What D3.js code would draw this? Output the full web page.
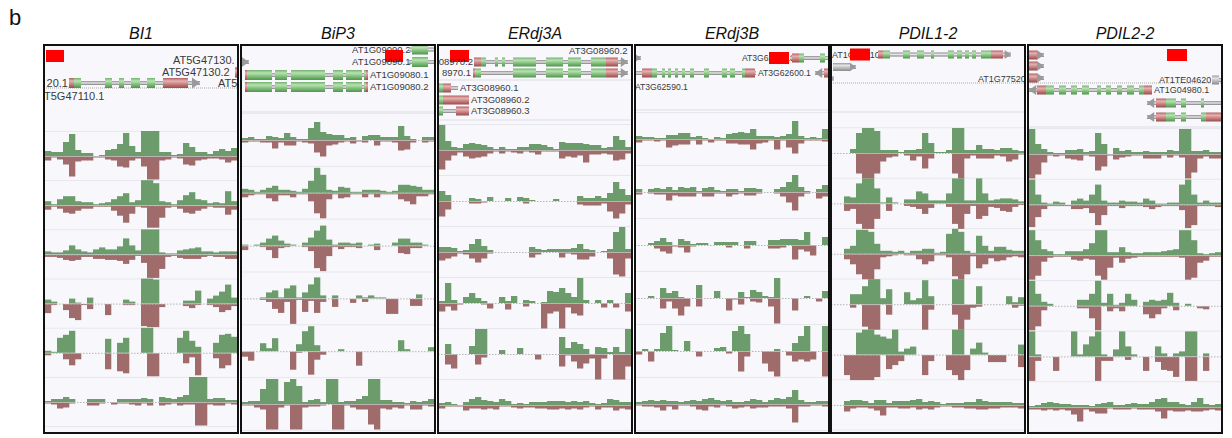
<!DOCTYPE html>
<html><head><meta charset="utf-8">
<script src="https://cdn.jsdelivr.net/npm/d3@7/dist/d3.min.js"></script>
<style>body{margin:0;background:#fff}svg{display:block;font-family:"Liberation Sans",Arial,sans-serif}</style>
</head><body><svg id="c" width="1232" height="438"></svg>
<script>
// ---------- DATA ----------
const panelTitles = ["BI1", "BiP3", "ERdj3A", "ERdj3B", "PDIL1-2", "PDIL2-2"];
const bins = d3.range(32);
// read coverage per bin, 6 tracks per gene; Up = green (+), Down = brown (-)
const bi1Up = [
 [5,4,4,14,22,6,3,3,0,1,6,7,12,23,10,4,25,25,25,4,4,1,2,13,9,4,4,2,5,7,5,8],
 [4,1,6,9,9,4,3,3,1,2,3,6,9,12,3,5,25,25,22,4,3,1,5,10,13,6,5,2,3,2,14,4],
 [3,2,2,4,9,5,3,2,5,7,5,5,8,16,9,4,25,25,25,2,1,1,4,5,6,7,3,3,2,3,3,3],
 [4,2,0,0,5,1,0,6,0,0,0,0,0,4,2,0,25,25,24,0,0,0,0,3,3,13,0,5,8,12,19,6],
 [2,1,15,18,22,0,0,0,0,0,14,0,10,15,0,0,25,25,0,0,0,0,15,22,12,6,0,0,10,18,19,16],
 [1,3,3,5,3,0,0,3,3,3,0,0,3,3,3,3,4,3,0,5,4,3,5,7,25,25,25,3,4,4,2,2]];
const bi1Down = [
 [4,1,3,8,20,5,4,4,1,1,3,4,10,11,4,2,10,23,23,4,3,1,2,8,9,4,3,2,2,3,6,4],
 [4,1,3,7,8,5,3,3,1,1,1,5,10,17,8,1,2,22,22,12,2,1,3,7,8,5,3,1,2,2,9,4],
 [2,2,3,5,6,5,2,2,4,4,5,5,6,9,5,1,8,23,23,14,2,1,3,4,4,4,2,1,2,2,4,4],
 [9,1,0,6,14,16,1,5,0,0,11,0,0,1,1,0,22,23,23,3,0,0,0,2,4,1,0,1,3,8,6,2],
 [2,0,0,6,12,6,0,0,0,0,16,0,18,20,0,0,0,23,23,0,0,0,0,10,4,22,0,0,5,15,12,0],
 [1,2,6,5,1,0,0,3,3,1,0,2,1,1,2,3,1,3,0,3,2,1,3,2,2,23,23,2,3,3,1,2]];
const bip3Up = [
 [2,3,1,1,4,3,2,7,3,1,1,12,18,8,6,5,5,2,3,0,4,5,5,3,3,3,14,4,1,0,3,3],
 [4,3,1,3,5,7,3,3,2,1,4,12,25,18,3,2,6,5,1,1,3,3,3,2,1,2,8,8,7,6,3,3],
 [1,0,1,3,7,10,5,2,1,0,3,8,15,20,6,1,3,3,2,3,0,1,2,0,0,3,7,7,3,3,1,0],
 [0,0,0,1,6,8,1,10,13,1,6,14,21,3,0,3,0,0,0,3,1,3,1,1,0,0,0,0,0,4,0,0],
 [0,0,0,8,3,13,0,0,0,7,20,25,6,0,0,0,2,0,0,0,0,0,0,0,0,0,11,2,0,0,0,4],
 [2,3,3,15,25,25,3,22,25,18,2,4,5,2,25,25,2,3,3,5,8,25,25,4,4,2,2,1,3,2,3,5]];
const bip3Down = [
 [2,1,1,2,2,8,2,5,5,1,2,3,12,16,5,4,2,1,3,1,2,0,5,1,1,2,10,9,2,0,2,1],
 [4,2,1,1,5,8,2,2,4,1,1,8,20,25,6,1,5,4,1,1,4,1,4,1,1,1,6,8,11,3,3,1],
 [4,0,0,1,4,12,2,1,0,0,1,5,22,25,10,1,3,1,1,2,0,0,4,0,0,0,7,8,2,2,0,0],
 [0,0,0,1,3,10,14,3,25,1,13,2,14,3,0,8,0,0,4,0,3,0,0,0,15,15,0,0,7,7,0,0],
 [5,9,0,0,0,0,0,0,18,1,0,23,8,3,0,0,0,0,0,14,0,0,0,0,0,0,0,0,0,0,0,0],
 [1,1,3,5,25,25,3,1,25,25,3,2,2,1,0,25,25,1,3,5,5,20,25,4,5,3,4,1,5,5,1,2]];
const erdj3aUp = [
 [25,9,3,2,6,7,6,5,3,1,3,1,1,3,3,6,6,5,3,1,8,7,7,7,6,5,5,2,3,14,10,3],
 [10,6,0,0,0,3,2,0,4,0,0,3,0,4,3,1,0,0,0,2,0,0,0,5,3,3,5,3,8,19,12,6],
 [5,5,4,1,2,8,13,6,2,0,0,0,0,0,0,5,3,2,3,3,3,3,4,8,3,2,0,1,3,20,25,3],
 [2,20,3,0,6,10,5,2,0,0,6,2,7,0,3,2,0,1,12,11,15,10,6,25,3,0,3,0,3,0,0,10],
 [0,10,0,0,0,8,25,25,0,0,4,0,0,6,0,0,0,0,0,0,17,6,12,10,5,0,7,6,2,7,2,25],
 [2,3,1,0,3,6,8,5,4,3,6,4,1,2,1,3,3,3,4,4,4,3,4,3,4,2,1,2,6,5,3,3]];
const erdj3aDown = [
 [19,10,5,2,6,8,7,6,3,1,3,1,2,3,1,2,4,1,1,1,8,6,7,5,12,4,4,3,4,10,9,3],
 [15,8,0,0,0,2,2,1,0,0,0,0,0,0,2,0,0,0,0,0,0,0,0,3,4,4,4,2,10,17,12,3],
 [8,6,4,1,2,6,10,6,1,0,0,0,0,0,0,5,2,0,0,0,5,1,2,7,7,4,0,0,6,22,24,6],
 [8,3,7,1,0,0,0,1,5,0,0,6,0,0,3,0,0,25,10,8,25,4,10,12,0,0,0,4,0,4,0,8],
 [0,10,14,0,0,0,10,3,0,0,0,0,0,0,0,0,5,0,0,0,12,1,7,14,9,4,25,4,0,25,25,12],
 [3,1,1,1,5,3,3,4,3,4,1,1,2,3,2,2,3,3,4,4,3,4,3,4,2,1,4,2,2,5,3,4]];
const erdj3bUp = [
 [3,2,2,1,1,4,4,6,6,2,3,1,0,2,1,5,6,7,6,10,3,3,3,2,3,5,18,3,1,2,1,10],
 [3,0,3,4,3,5,2,5,4,5,1,4,5,2,1,3,3,1,4,4,3,0,0,3,5,10,17,5,1,0,3,7],
 [0,0,2,4,7,3,0,6,4,1,2,2,0,3,3,3,3,0,4,4,0,0,5,5,6,6,6,5,13,0,0,8],
 [0,0,2,0,10,5,7,1,0,0,13,0,0,7,0,0,0,6,1,8,6,2,1,20,0,0,0,0,2,0,0,7],
 [0,2,0,2,18,25,1,0,10,0,0,0,0,3,4,0,20,25,17,0,0,0,0,2,0,0,8,15,25,0,0,25],
 [2,3,4,3,4,3,3,2,3,4,3,5,6,4,3,4,2,2,3,5,4,2,4,6,5,7,14,4,2,2,3,3]];
const erdj3bDown = [
 [3,1,1,2,1,8,6,5,5,1,5,1,3,1,1,4,4,5,5,10,4,3,1,10,1,8,14,4,1,1,1,2],
 [2,0,1,2,2,8,3,4,4,4,1,4,4,1,1,4,2,1,3,3,1,0,0,1,4,10,18,4,1,0,6,4],
 [0,0,0,3,6,8,1,2,7,1,0,0,0,0,0,2,0,0,3,0,0,0,3,3,2,0,14,4,6,10,0,0],
 [0,0,0,0,10,3,10,17,8,0,8,0,0,0,0,12,1,6,0,3,4,0,8,25,0,0,12,0,0,0,3,0],
 [3,0,10,0,0,0,0,0,0,0,5,0,0,0,0,2,0,20,5,0,0,12,20,25,0,4,10,8,10,8,0,25],
 [1,2,2,3,6,2,5,1,1,2,5,6,2,3,1,2,4,3,2,4,3,3,2,2,2,4,18,2,2,1,1,2]];
const pdil12Up = [
 [0,0,0,4,20,25,25,22,3,3,3,1,3,3,4,20,10,1,1,3,25,25,3,3,8,4,4,3,5,5,3,2],
 [0,0,7,6,20,25,25,15,1,6,1,0,4,4,12,10,3,3,3,10,25,25,3,3,25,10,3,4,5,5,4,2],
 [0,0,5,8,24,24,22,10,3,3,2,3,1,3,3,5,5,1,2,20,25,22,3,1,18,8,3,7,7,4,3,3],
 [0,0,0,10,10,18,25,25,6,15,0,0,12,4,6,24,8,0,0,0,25,25,0,0,18,0,0,0,0,8,2,7],
 [0,0,0,0,22,25,25,20,18,16,25,3,6,8,0,0,0,0,0,0,25,25,0,6,12,2,0,0,0,0,0,10],
 [0,0,4,5,5,4,2,5,5,2,4,4,4,5,6,3,4,3,1,2,2,2,3,3,6,4,3,3,3,3,2,2]];
const pdil12Down = [
 [0,0,0,0,20,25,25,20,8,4,3,0,2,7,3,15,5,0,0,0,20,25,5,2,5,5,5,2,3,8,6,1],
 [0,0,7,5,20,25,25,15,0,7,0,0,2,3,5,10,4,0,0,3,20,25,10,2,15,12,3,4,7,8,3,1],
 [0,0,5,10,20,25,25,15,3,2,1,0,1,1,5,10,7,1,1,3,22,25,20,2,14,10,4,7,6,3,2,3],
 [0,0,0,3,0,22,25,25,0,10,0,0,0,0,0,25,5,0,0,0,10,25,15,3,2,0,0,0,0,0,3,1],
 [0,0,20,25,25,25,25,22,0,14,10,6,0,0,0,20,6,0,0,15,20,25,15,0,0,0,7,7,7,0,0,12],
 [0,0,6,3,2,2,3,5,10,2,2,3,3,2,4,3,4,2,1,1,2,2,3,3,4,4,3,3,2,2,2,3]];
const pdil22Up = [
 [25,10,5,2,1,1,4,4,5,2,3,21,10,0,6,3,4,2,2,3,2,2,2,4,3,25,25,3,3,4,2,2],
 [25,10,2,1,3,2,0,4,6,4,10,20,4,2,2,4,3,3,2,6,4,1,1,2,2,20,25,10,2,4,2,2],
 [25,15,6,4,1,1,4,4,4,6,12,25,25,3,3,8,3,2,2,3,3,3,4,5,6,25,25,15,2,1,2,3],
 [25,12,4,2,0,0,0,0,6,6,12,25,3,12,1,3,12,6,0,4,6,5,6,13,3,0,2,0,0,0,0,0],
 [25,2,0,0,0,0,0,25,2,12,20,25,2,0,7,25,10,2,0,0,0,10,3,0,3,5,25,25,0,3,0,0],
 [1,2,4,5,4,3,3,2,2,2,1,3,4,5,2,2,3,4,3,3,5,8,9,5,5,3,2,5,9,3,2,3]];
const pdil22Down = [
 [24,20,8,1,2,1,4,5,6,1,2,16,12,1,5,3,2,1,1,4,4,4,1,3,1,3,24,18,4,2,4,4],
 [22,12,4,1,1,1,1,4,4,3,8,20,10,1,1,3,1,1,1,2,4,2,1,1,1,5,23,20,1,1,1,2],
 [24,20,6,2,1,1,1,4,5,3,4,20,24,12,2,7,3,2,1,1,1,1,1,1,1,2,24,22,7,5,1,1],
 [24,20,4,0,0,0,0,0,2,2,12,24,0,5,2,5,0,0,0,8,12,8,2,0,4,0,0,0,2,3,0,0],
 [24,4,0,0,14,0,0,0,0,0,0,24,4,4,0,0,3,0,0,14,0,5,13,14,20,0,24,24,0,14,0,0],
 [2,2,3,2,3,2,3,7,14,2,4,6,6,1,2,2,2,1,2,2,2,4,11,3,4,4,3,4,4,3,2,3]];

// gene models: positions in window units (0..194), row = annotation lane
// ex types: c = coding exon, u = UTR, n = non-coding
const genesBI1 = [
 {t:"mark", row:0, s:2, e:20},
 {t:"txt", row:1, x:129, s:"AT5G47130."},
 {t:"txt", row:2, x:118, s:"AT5G47130.2"},
 {t:"tx", row:2, s:191, e:200, dir:"r", ex:[[191,196,"u"]]},
 {t:"tx", row:3, s:25, e:156, dir:"r", ex:[[25,30,"u"],[30,37,"c"],[61,68,"c"],[75,80,"c"],[87,96,"c"],[103,111,"c"],[119,144,"u"]]},
 {t:"txt", row:3, x:24, s:"20.1", a:"end"},
 {t:"txt", row:3, x:174, s:"AT5"},
 {t:"tx", row:3, s:193, e:200, ex:[[193,197,"c"]]},
 {t:"txt", row:4, x:0, s:"T5G47110.1"}];
const genesBiP3 = [
 {t:"txt", row:0, x:111, s:"AT1G09090.2"},
 {t:"tx", row:0, s:168, e:196, ex:[[171,187,"c"]]},
 {t:"mark", row:1, s:144, e:162},
 {t:"txt", row:2, x:111, s:"AT1G09090.1"},
 {t:"tx", row:2, s:168, e:196, ex:[[171,187,"c"]]},
 {t:"tx", row:2, s:0, e:8, dir:"r", ex:[]},
 {t:"tx", row:3, s:4, e:127, ex:[[4,6,"u"],[6,31,"c"],[34,46,"c"],[50,84,"c"],[92,102,"c"],[105,121,"c"],[123,125,"c"],[125,127,"u"]], label:"AT1G09080.1"},
 {t:"tx", row:4, s:4, e:127, ex:[[4,6,"u"],[6,31,"c"],[34,46,"c"],[50,84,"c"],[92,102,"c"],[105,121,"c"],[123,125,"c"],[125,127,"u"]], label:"AT1G09080.2"}];
const genesERdj3A = [
 {t:"txt", row:0, x:131, s:"AT3G08960.2"},
 {t:"mark", row:1, s:12, e:31},
 {t:"tx", row:2, s:36, e:190, dir:"r", ex:[[36,43,"u"],[43,48,"c"],[57,60,"c"],[64,67,"c"],[75,98,"c"],[108,125,"c"],[130,143,"c"],[153,168,"c"],[168,180,"u"]]},
 {t:"txt", row:2, x:35, s:"08970.2", a:"end"},
 {t:"tx", row:3, s:35, e:190, dir:"r", ex:[[35,37,"u"],[37,43,"c"],[75,98,"c"],[108,125,"c"],[130,143,"c"],[153,168,"c"],[168,180,"u"]]},
 {t:"txt", row:3, x:33, s:"8970.1", a:"end"},
 {t:"tx", row:4, s:1, e:20, ex:[[1,5,"c"],[5,13,"u"]], label:"AT3G08960.1"},
 {t:"tx", row:5, s:1, e:31, ex:[[1,5,"c"],[5,31,"u"]], label:"AT3G08960.2"},
 {t:"tx", row:6, s:1, e:31, ex:[[1,5,"c"],[18,31,"u"]], label:"AT3G08960.3"}];
const genesERdj3B = [
 {t:"tx", row:0, s:0, e:6, dir:"r", ex:[]},
 {t:"txt", row:0, x:107, s:"AT3G62610.1"},
 {t:"mark", row:0, s:134, e:154},
 {t:"tx", row:0, s:155, e:196, ex:[[157,164,"u"],[164,169,"c"],[185,190,"c"]]},
 {t:"tx", row:1, s:0, e:121, ex:[[7,17,"u"],[17,22,"c"],[27,30,"c"],[33,36,"c"],[40,43,"c"],[47,50,"c"],[55,59,"c"],[69,74,"c"],[87,92,"c"],[95,100,"c"],[107,110,"c"],[110,120,"u"]], label:"AT3G62600.1"},
 {t:"tx", row:1, s:180, e:196, dir:"l", ex:[[189,196,"u"]]},
 {t:"txt", row:2, x:0, s:"AT3G62590.1"}];
const genesPDIL12 = [
 {t:"txt", row:0, x:1, s:"AT1G77510.1"},
 {t:"mark", row:0, s:19, e:39},
 {t:"tx", row:0, s:47, e:180, dir:"r", ex:[[47,52,"u"],[52,59,"c"],[72,79,"c"],[86,93,"c"],[100,103,"c"],[117,123,"c"],[126,131,"c"],[134,138,"c"],[141,145,"c"],[150,160,"c"],[160,172,"u"]]},
 {t:"tx", row:1, s:2, e:25, dir:"r", ex:[[2,19,"n"]]},
 {t:"tx", row:2, s:0, e:3, dir:"r", ex:[]},
 {t:"txt", row:3, x:147, s:"AT1G77520."}];
const genesPDIL22 = [
 {t:"mark", row:0, s:139, e:159},
 {t:"tx", row:0, s:1, e:16, dir:"r", ex:[[1,9,"u"]]},
 {t:"tx", row:1, s:1, e:16, dir:"r", ex:[[1,9,"u"]]},
 {t:"tx", row:2, s:1, e:16, dir:"r", ex:[[1,9,"u"]]},
 {t:"txt", row:3, x:131, s:"AT1TE04620"},
 {t:"tx", row:3, s:184, e:196, ex:[[184,191,"n"]]},
 {t:"tx", row:4, s:1, e:124, dir:"l", ex:[[9,18,"u"],[18,26,"c"],[31,38,"c"],[43,49,"c"],[54,61,"c"],[69,73,"c"],[78,83,"c"],[89,94,"c"],[99,106,"c"],[111,116,"c"],[116,124,"u"]], label:"AT1G04980.1"},
 {t:"tx", row:5, s:119, e:196, dir:"l", ex:[[128,138,"u"],[138,148,"c"],[153,158,"c"],[173,176,"c"]]},
 {t:"tx", row:6, s:119, e:196, dir:"l", ex:[[128,138,"u"],[138,147,"c"],[153,158,"c"],[173,178,"c"],[178,196,"u"]]}];

const upData = [bi1Up, bip3Up, erdj3aUp, erdj3bUp, pdil12Up, pdil22Up];
const downData = [bi1Down, bip3Down, erdj3aDown, erdj3bDown, pdil12Down, pdil22Down];
const geneData = [genesBI1, genesBiP3, genesERdj3A, genesERdj3B, genesPDIL12, genesPDIL22];

// ---------- LAYOUT ----------
const panelLeft = [44, 241, 438, 635, 831, 1028];
const panelW = 194, panelTop = 45, panelBottom = 433;
const trackBase0 = [156, 140, 150, 139, 153, 154];
const trackGap = [49.2, 52.8, 51, 53, 50.4, 50.6];
const laneY = [
  [56, 60.5, 72.5, 83, 96.5],
  [49.5, 56, 62, 75, 87],
  [50.5, 56, 62, 73, 88, 100, 111],
  [58, 73, 87],
  [54.5, 67, 78.5, 78.5],
  [55, 66, 78, 80, 90, 103, 117]];
const dotLines = [[88], [], [], [], [83], [83]];
const greyLines = [[], [112], [80, 120], [110], [112], [127]];
const fontSz = [11, 9.5, 9.5, 8.6, 9, 9];
const exonH = [10, 10, 9, 9, 8, 9];

const svg = d3.select("#c");
const defs = svg.append("defs");
function grad(id, stops) {
  const g = defs.append("linearGradient").attr("id", id).attr("x1", 0).attr("x2", 0).attr("y1", 0).attr("y2", 1);
  stops.forEach(([o, c]) => g.append("stop").attr("offset", o).attr("stop-color", c));
}
grad("gC", [[0, "#74b270"], [0.3, "#b9e2b2"], [0.6, "#86c281"], [1, "#4f954c"]]);
grad("gU", [[0, "#b25e5e"], [0.3, "#e6b2b2"], [0.6, "#c98484"], [1, "#9c4a4a"]]);
grad("gN", [[0, "#9a9a9a"], [0.3, "#e4e4e4"], [0.6, "#bcbcbc"], [1, "#8a8a8a"]]);
grad("gL", [[0, "#8c8c8c"], [0.5, "#e6e6e6"], [1, "#7c7c7c"]]);
const fillOf = {c: "url(#gC)", u: "url(#gU)", n: "url(#gN)"};

svg.append("text").attr("x", 9).attr("y", 25).attr("font-size", 22).attr("fill", "#111").text("b");

panelTitles.forEach((title, i) => {
  const x0 = panelLeft[i];
  const gx = d3.scaleLinear().domain([0, 194]).range([x0, x0 + panelW]);
  const xb = d3.scaleBand().domain(bins).range([x0 + 1, x0 + panelW - 1]);
  const ys = d3.scaleLinear().domain([0, 25]).range([0, 25]).clamp(true);
  defs.append("clipPath").attr("id", "clip" + i).append("rect")
    .attr("x", x0).attr("y", panelTop).attr("width", panelW).attr("height", panelBottom - panelTop);

  svg.append("text").attr("x", x0 + panelW / 2).attr("y", 39).attr("text-anchor", "middle")
    .attr("font-size", 16).attr("font-style", "italic").attr("fill", "#111").text(title);

  const g = svg.append("g").attr("clip-path", `url(#clip${i})`);
  g.append("rect").attr("x", x0).attr("y", panelTop).attr("width", panelW)
    .attr("height", panelBottom - panelTop).attr("fill", "#f8f8fc");

  const bases = d3.range(6).map(t => trackBase0[i] + t * trackGap[i]);
  d3.range(7).forEach(k => {
    const y = trackBase0[i] - trackGap[i] / 2 + k * trackGap[i];
    g.append("line").attr("x1", x0).attr("x2", x0 + panelW).attr("y1", y).attr("y2", y)
      .attr("stroke", "#e6e6ee").attr("stroke-width", 1);
  });
  greyLines[i].forEach(y => g.append("line").attr("x1", x0).attr("x2", x0 + panelW)
    .attr("y1", y).attr("y2", y).attr("stroke", "#dcdce4").attr("stroke-width", 1));
  dotLines[i].forEach(y => g.append("line").attr("x1", x0).attr("x2", x0 + panelW)
    .attr("y1", y).attr("y2", y).attr("stroke", "#aaa").attr("stroke-dasharray", "1,1"));

  bases.forEach((b, t) => {
    const tg = g.append("g");
    tg.selectAll("rect.up").data(upData[i][t]).join("rect").attr("class", "up")
      .attr("x", (d, k) => xb(bins[k])).attr("width", xb.bandwidth() + 0.3)
      .attr("y", d => b - ys(d)).attr("height", d => ys(d)).attr("fill", "#6c9c6b");
    tg.selectAll("rect.dn").data(downData[i][t]).join("rect").attr("class", "dn")
      .attr("x", (d, k) => xb(bins[k])).attr("width", xb.bandwidth() + 0.3)
      .attr("y", b + 0.5).attr("height", d => ys(d)).attr("fill", "#a06b6b");
    tg.append("line").attr("x1", x0).attr("x2", x0 + panelW).attr("y1", b + 0.5).attr("y2", b + 0.5)
      .attr("stroke", "#b4b4b4").attr("stroke-dasharray", "1.5,1.5");
  });

  const fs = fontSz[i], eh = exonH[i];
  geneData[i].forEach(f => {
    const y = laneY[i][f.row];
    if (f.t === "txt") {
      g.append("text").attr("x", gx(f.x)).attr("y", y).attr("dy", "0.35em")
        .attr("text-anchor", f.a || "start").attr("font-size", fs).attr("fill", "#3a3a3a").text(f.s);
    } else if (f.t === "mark") {
      g.append("rect").attr("x", gx(f.s)).attr("y", y - 6).attr("width", gx(f.e) - gx(f.s))
        .attr("height", 12).attr("fill", "#ff0000");
    } else if (f.t === "tx") {
      const xs = gx(f.s), xe = gx(f.e);
      g.append("rect").attr("x", xs).attr("y", y - 2).attr("width", xe - xs).attr("height", 4).attr("fill", "url(#gL)");
      const ah = eh * 0.55, aw = eh * 0.8;
      if (f.dir === "r") g.append("path").attr("d", `M${xe - aw},${y - ah}L${xe},${y}L${xe - aw},${y + ah}Z`).attr("fill", "#9a9a9a");
      if (f.dir === "l") g.append("path").attr("d", `M${xs + aw},${y - ah}L${xs},${y}L${xs + aw},${y + ah}Z`).attr("fill", "#9a9a9a");
      f.ex.forEach(([s, e, k]) => g.append("rect").attr("x", gx(s)).attr("y", y - eh / 2)
        .attr("width", Math.max(1, gx(e) - gx(s))).attr("height", eh).attr("fill", fillOf[k]));
      if (f.label) g.append("text").attr("x", xe + 2).attr("y", y).attr("dy", "0.35em")
        .attr("font-size", fs).attr("fill", "#3a3a3a").text(f.label);
    }
  });

  svg.append("rect").attr("x", x0).attr("y", panelTop).attr("width", panelW)
    .attr("height", panelBottom - panelTop).attr("fill", "none").attr("stroke", "#111").attr("stroke-width", 2);
});
</script></body></html>
